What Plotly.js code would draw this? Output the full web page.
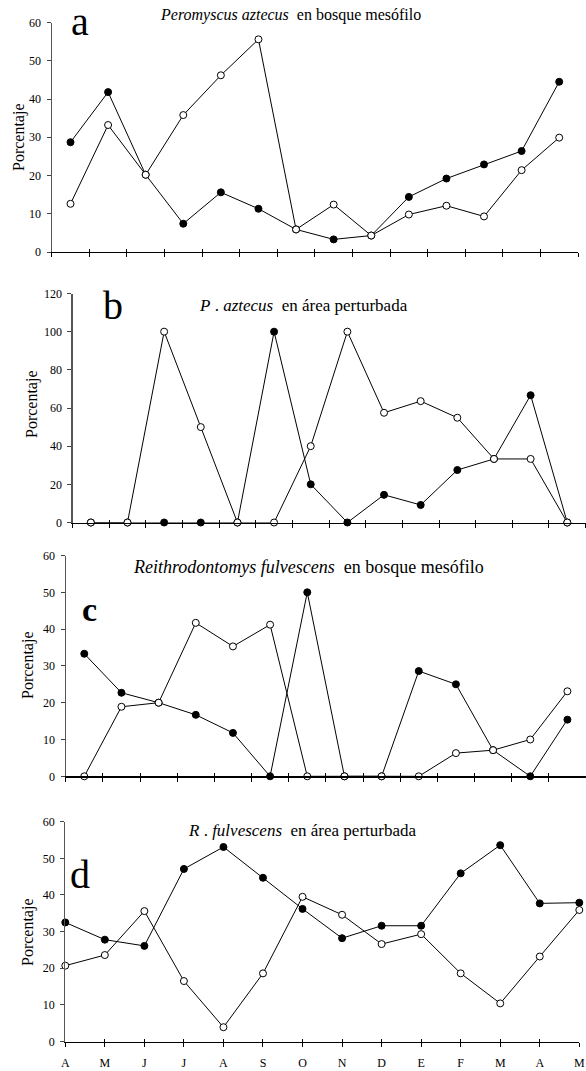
<!DOCTYPE html>
<html><head><meta charset="utf-8">
<script src="https://cdn.plot.ly/plotly-3.0.1.min.js"></script>
<style>html,body{margin:0;padding:0;background:#fff}#chart{width:586px;height:1071px}</style>
</head><body><div id="chart"></div>
<script>
const months = ['A','M','J','J','A','S','O','N','D','E','F','M','A','M'];
const aFilled = [28.7,41.8,20.2,7.4,15.6,11.3,5.9,3.3,4.3,14.4,19.2,22.9,26.4,44.5];
const aOpen   = [12.6,33.2,20.2,35.8,46.2,55.6,5.9,12.4,4.3,9.8,12.1,9.3,21.4,29.9];
const bFilled = [0,0,0,0,0,100,20,0,14.5,9.2,27.5,33.3,66.7,0];
const bOpen   = [0,0,100,50,0,0,40,100,57.5,63.6,54.9,33.3,33.3,0];
const cFilled = [33.3,22.7,20,16.7,11.8,0,50,0,0,28.6,25,7.1,0,15.4];
const cOpen   = [0,18.9,20,41.7,35.3,41.2,0,0,0,0,6.3,7.1,10,23.1];
const dFilled = [32.5,27.8,26.1,47.1,53.1,44.7,36.2,28.2,31.6,31.6,45.9,53.6,37.7,37.9];
const dOpen   = [20.7,23.6,35.6,16.5,3.9,18.6,39.5,34.6,26.6,29.3,18.6,10.4,23.2,35.9];
const yLabel = 'Porcentaje';
const titles = [
  '<i>Peromyscus aztecus</i>  en bosque mesófilo',
  '<i>P</i> . <i>aztecus</i>  en área perturbada',
  '<i>Reithrodontomys fulvescens</i>  en bosque mesófilo',
  '<i>R</i> . <i>fulvescens</i>  en área perturbada'
];
const letters = ['a','b','c','d'];

const W = 586, H = 1071;
const FONT = "'Liberation Serif', 'Times New Roman', Times, serif";
const panels = [
  {x0:51.7, x1:578,   yTop:22.5,  yBot:252,    ymax:60,  dtick:10, onTicks:false, f:aFilled, o:aOpen,
   title:{x:290,y:15,size:16}, letter:{x:80,y:21,size:40}, ylab:{x:19,y:137}},
  {x0:72.5, x1:585.6, yTop:293.5, yBot:522.5,  ymax:120, dtick:20, onTicks:false, f:bFilled, o:bOpen,
   title:{x:303,y:305,size:17}, letter:{x:113,y:305,size:40}, ylab:{x:32,y:404}},
  {x0:65.7, x1:586,   yTop:555.5, yBot:776.3,  ymax:60,  dtick:10, onTicks:false, f:cFilled, o:cOpen,
   title:{x:308,y:567,size:18}, letter:{x:89,y:609,size:34, bold:true}, ylab:{x:28,y:665}},
  {x0:65.3, x1:579.3, yTop:821.7, yBot:1041.5, ymax:60,  dtick:10, onTicks:true,  f:dFilled, o:dOpen,
   title:{x:302,y:830,size:17}, letter:{x:80,y:874,size:40}, ylab:{x:28,y:932}}
];

const data = [];
const layout = {
  width: W, height: H,
  margin: {l:0, r:0, t:0, b:0},
  paper_bgcolor: '#fff', plot_bgcolor: 'rgba(0,0,0,0)',
  showlegend: false,
  font: {family: FONT, color: '#000'},
  annotations: []
};

panels.forEach((p, k) => {
  const n = k + 1;
  const xs = p.f.map((_, i) => p.onTicks ? i : i + 0.5);
  const xr = p.onTicks ? [0, months.length - 1] : [0, months.length];
  const tv = [];
  for (let i = 0; i <= xr[1]; i++) tv.push(i);
  const xa = 'x' + (n === 1 ? '' : n), ya = 'y' + (n === 1 ? '' : n);
  const common = {x: xs, xaxis: xa, yaxis: ya, mode: 'lines+markers', cliponaxis: false,
                  line: {color: '#000', width: 1}, hoverinfo: 'skip'};
  data.push(Object.assign({}, common, {y: p.f, name: 'filled',
    marker: {symbol: 'circle', size: 7, color: '#000', line: {color: '#000', width: 1}}}));
  data.push(Object.assign({}, common, {y: p.o, name: 'open',
    marker: {symbol: 'circle', size: 7, color: '#fff', line: {color: '#000', width: 1}}}));
  data.push({x: [], y: [], xaxis: 'x' + (n + 4), yaxis: ya, type: 'scatter', hoverinfo: 'skip'});

  const xd = [p.x0 / W, Math.min(p.x1 / W, 1)];
  const yd = [1 - p.yBot / H, 1 - p.yTop / H];
  layout['xaxis' + (n === 1 ? '' : n)] = {
    domain: xd, range: xr, anchor: ya, tickmode: 'array', tickvals: tv,
    ticktext: p.onTicks ? months : tv.map(() => ''),
    showticklabels: p.onTicks, ticks: 'outside', ticklen: 4, tickwidth: 1, tickcolor: '#000',
    showline: true, linecolor: '#000', linewidth: 1.2, showgrid: false, zeroline: false,
    tickfont: {family: FONT, size: 12, color: '#000'}, ticklabelstandoff: 6, fixedrange: true
  };
  layout['xaxis' + (n + 4)] = {
    overlaying: xa, anchor: ya, range: xr, tickmode: 'array', tickvals: tv,
    showticklabels: false, ticks: 'inside', ticklen: 3, tickwidth: 1, tickcolor: '#000',
    showline: false, showgrid: false, zeroline: false, fixedrange: true
  };
  layout['yaxis' + (n === 1 ? '' : n)] = {
    domain: yd, range: [0, p.ymax], anchor: xa, dtick: p.dtick, tick0: 0,
    ticks: 'outside', ticklen: 4, tickwidth: 1, tickcolor: '#444',
    showline: true, linecolor: '#555', linewidth: 1.2, showgrid: false, zeroline: false,
    tickfont: {family: FONT, size: 12, color: '#000'}, ticklabelstandoff: 3, fixedrange: true
  };
  layout.annotations.push({
    xref: 'paper', yref: 'paper', x: p.title.x / W, y: 1 - p.title.y / H,
    xanchor: 'center', yanchor: 'middle', showarrow: false,
    text: titles[k], font: {family: FONT, size: p.title.size, color: '#000'}
  });
  layout.annotations.push({
    xref: 'paper', yref: 'paper', x: p.letter.x / W, y: 1 - p.letter.y / H,
    xanchor: 'center', yanchor: 'middle', showarrow: false,
    text: p.letter.bold ? '<b>' + letters[k] + '</b>' : letters[k],
    font: {family: FONT, size: p.letter.size, color: '#000'}
  });
  layout.annotations.push({
    xref: 'paper', yref: 'paper', x: p.ylab.x / W, y: 1 - p.ylab.y / H,
    xanchor: 'center', yanchor: 'middle', showarrow: false, textangle: -90,
    text: yLabel, font: {family: FONT, size: 16, color: '#000'}
  });
});

Plotly.newPlot('chart', data, layout, {displayModeBar: false, staticPlot: true});
</script>
</body></html>
